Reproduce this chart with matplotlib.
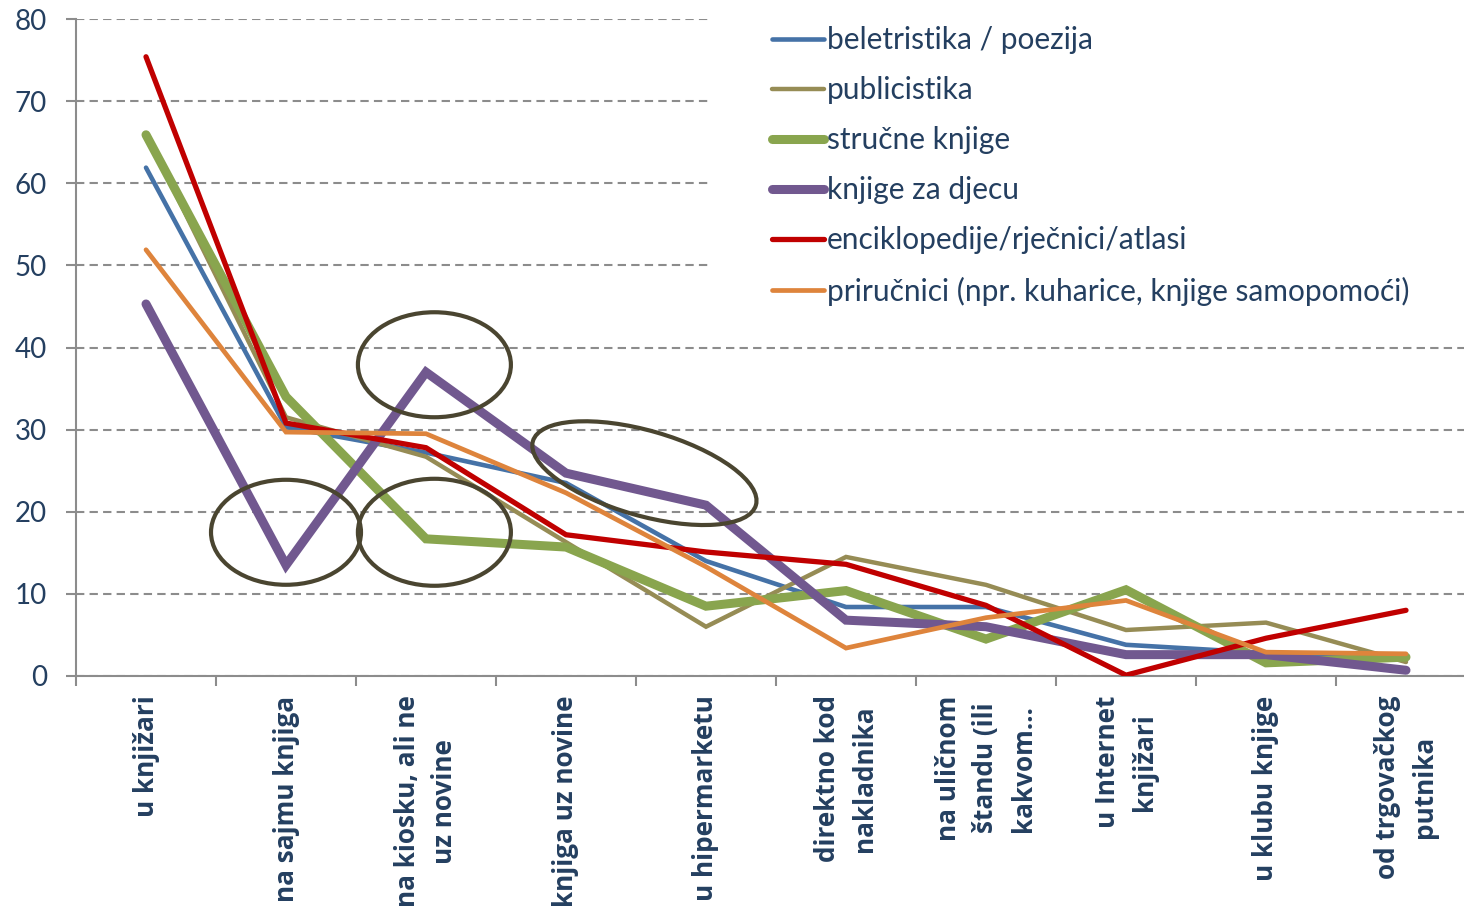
import numpy as np
import matplotlib.pyplot as plt
from matplotlib.patches import Ellipse, Rectangle
from matplotlib.transforms import ScaledTranslation

# Kategorije (mjesto kupnje)
kategorije = ['u knjižari', 'na sajmu knjiga', 'na kiosku, ali ne\nuz novine',
              'knjiga uz novine', 'u hipermarketu', 'direktno kod\nnakladnika',
              'na uličnom\nštandu (ili\nkakvom…', 'u Internet\nknjižari',
              'u klubu knjige', 'od trgovačkog\nputnika']

# Vrijednosti po vrsti knjiga (%)
beletristika = [61.9, 30.3, 27.2, 23.5, 14.0, 8.4, 8.4, 3.8, 2.8, 2.2]
publicistika = [66.0, 31.5, 26.7, 16.3, 6.0, 14.5, 11.1, 5.6, 6.5, 1.7]
strucne = [65.9, 34.0, 16.7, 15.7, 8.5, 10.4, 4.5, 10.5, 1.6, 2.3]
djeca = [45.3, 13.5, 37.0, 24.7, 20.8, 6.8, 6.0, 2.6, 2.6, 0.7]
enciklopedije = [75.4, 30.8, 27.8, 17.2, 15.1, 13.6, 8.6, 0.1, 4.6, 8.0]
prirucnici = [51.9, 29.7, 29.5, 22.3, 13.3, 3.4, 7.1, 9.2, 2.9, 2.7]

serije = [
    ('beletristika / poezija', beletristika, '#4572A7', 3.3),
    ('publicistika', publicistika, '#968C55', 3.2),
    ('stručne knjige', strucne, '#89A54E', 6.5),
    ('knjige za djecu', djeca, '#71588F', 6.5),
    ('enciklopedije/rječnici/atlasi', enciklopedije, '#C00000', 3.8),
    ('priručnici (npr. kuharice, knjige samopomoći)', prirucnici, '#DE843C', 3.4),
]

tekst_boja = '#243F60'

fig = plt.figure(figsize=(14.64, 9.10), dpi=100)
ax = fig.add_axes([76 / 1464, 234 / 910, 1400 / 1464, 657 / 910])

x = np.arange(len(kategorije))
for naziv, vrijednosti, boja, debljina in serije:
    ax.plot(x, vrijednosti, color=boja, lw=debljina, label=naziv,
            solid_capstyle='round', solid_joinstyle='miter', zorder=3)

ax.set_xlim(-0.5, len(kategorije) - 0.5)
ax.set_ylim(0, 80)
ax.set_yticks(np.arange(0, 81, 10))
ax.yaxis.grid(True, linestyle=(0, (4, 2.5)), color='#8C8C8C', lw=1.5)
ax.set_axisbelow(True)

# bijela pozadina legende prekriva mrežu
ax.add_patch(Rectangle((0.453, 0.542), 0.6, 0.5, transform=ax.transAxes,
                       facecolor='white', edgecolor='none', zorder=1, clip_on=False))

for s in ['top', 'right']:
    ax.spines[s].set_visible(False)
for s in ['left', 'bottom']:
    ax.spines[s].set_color('#8C8C8C')
    ax.spines[s].set_linewidth(1.5)

ax.set_xticks(x)
ax.set_xticklabels(kategorije, rotation=90, va='top', ha='center',
                   multialignment='center', fontsize=18.8, fontweight='bold',
                   color=tekst_boja, family='Open Sans', linespacing=1.5)
ax.set_xticks(np.arange(-0.5, len(kategorije)), minor=True)
ax.tick_params(axis='x', which='major', length=0, pad=14)
ax.tick_params(axis='x', which='minor', length=7, width=1.5, color='#8C8C8C')
ax.tick_params(axis='y', length=7, width=1.5, color='#8C8C8C', pad=14,
               labelsize=20, labelcolor=tekst_boja)
for t in ax.get_yticklabels():
    t.set_family('Lato')

# elipse oko istaknutih vrijednosti djecjih knjiga
elipse = [(1, 17.5, 1.50, 1.05, 0), (2.06, 37.9, 1.53, 1.05, 0),
          (2.06, 17.5, 1.53, 1.07, 0), (3.56, 24.7, 2.32, 0.85, -16)]
for cx, cy, w, h, kut in elipse:
    tr = fig.dpi_scale_trans + ScaledTranslation(cx, cy, ax.transData)
    ax.add_patch(Ellipse((0, 0), w, h, angle=kut, transform=tr, fill=False,
                         edgecolor='#4A4530', lw=3.0, zorder=4))

leg = ax.legend(loc='upper left', bbox_to_anchor=(0.4864, 1.012), frameon=False,
                borderpad=0, handlelength=1.75, handletextpad=0.1, labelspacing=0.74,
                prop={'family': 'Lato', 'size': 21.5})
for t in leg.get_texts():
    t.set_color(tekst_boja)

fig.savefig('out.png', dpi=100)
